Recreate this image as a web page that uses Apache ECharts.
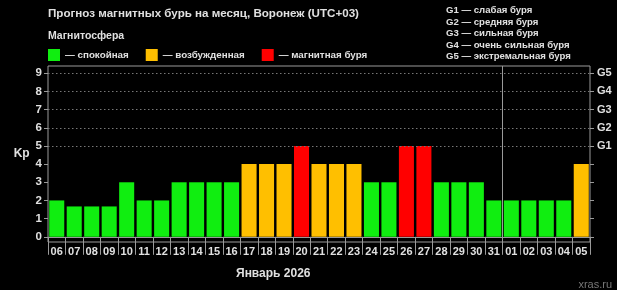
<!DOCTYPE html>
<html><head><meta charset="utf-8">
<script src="https://cdn.jsdelivr.net/npm/echarts@6/dist/echarts.min.js"></script>
<style>html,body{margin:0;padding:0;background:#000}#c{width:617px;height:290px}</style>
</head><body><div id="c"></div>
<script>
const titleText = 'Прогноз магнитных бурь на месяц, Воронеж (UTC+03)';
const subTitle = 'Магнитосфера';
const axisTitle = 'Январь 2026';
const days = ['06','07','08','09','10','11','12','13','14','15','16','17','18','19','20','21','22','23','24','25','26','27','28','29','30','31','01','02','03','04','05'];
const kp = [2,1.67,1.67,1.67,3,2,2,3,3,3,3,4,4,4,5,4,4,4,3,3,5,5,3,3,3,2,2,2,2,2,4];
const levelNames = ['спокойная','возбужденная','магнитная буря'];
const levelColors = ['#10ee10','#ffbf00','#ff0000'];
const yTicks = [0,1,2,3,4,5,6,7,8,9];
const gLevels = [5,6,7,8,9];
const gLabels = ['G1','G2','G3','G4','G5'];
const gLegend = ['G1 — слабая буря','G2 — средняя буря','G3 — сильная буря','G4 — очень сильная буря','G5 — экстремальная буря'];
const monthBreakIndex = 26;

function levelOf(v){ return v >= 5 ? 2 : (v >= 4 ? 1 : 0); }

const chart = echarts.init(document.getElementById('c'), null, {renderer:'canvas'});
const gray = '#9a9a9a';
const txt = '#e0e0e0';
const font = 'Liberation Sans, Arial, sans-serif';

const series = levelNames.map((name, li) => ({
  name: name,
  type: 'bar',
  xAxisIndex: 0, yAxisIndex: 0,
  barGap: '-100%',
  barCategoryGap: '14%',
  itemStyle: {color: levelColors[li]},
  z: 3,
  data: kp.map(v => levelOf(v) === li ? v : '-')
}));
series.push({
  type: 'line', data: [], yAxisIndex: 0, xAxisIndex: 0, z: 1, silent: true,
  markLine: {silent: true, symbol: 'none', label: {show: false},
    lineStyle: {color: '#777', type: [1.5, 2.5], width: 1},
    data: gLevels.map(v => ({yAxis: v}))}
});
series.push({
  type: 'line', data: [], yAxisIndex: 0, xAxisIndex: 2, z: 4, silent: true,
  markLine: {silent: true, symbol: 'none', label: {show: false},
    lineStyle: {color: gray, type: 'solid', width: 1},
    data: [{xAxis: monthBreakIndex}]}
});

const graphics = [
  {type:'text', left: 48, top: 8, style:{text: titleText, fill: txt, font: 'bold 11.6px ' + font}},
  {type:'text', left: 48, top: 31, style:{text: subTitle, fill: txt, font: 'bold 10.5px ' + font}},
  {type:'text', left: 236, top: 268, style:{text: axisTitle, fill: txt, font: 'bold 12px ' + font}},
  {type:'text', right: 5, top: 279, style:{text: 'xras.ru', fill: '#777', font: '11px ' + font}}
];
gLegend.forEach((t, i) => {
  graphics.push({type:'text', left: 446, top: 5.5 + i * 11.5, style:{text: t, fill: txt, font: 'bold 9.6px ' + font}});
});

chart.setOption({
  backgroundColor: '#000',
  animation: false,
  legend: {
    left: 48, top: 49, padding: 0, itemWidth: 12, itemHeight: 12, itemGap: 17, icon: 'rect',
    data: levelNames,
    formatter: n => '— ' + n,
    textStyle: {color: txt, fontWeight: 'bold', fontSize: 9.8, fontFamily: font}
  },
  graphic: graphics,
  grid: {left: 48, right: 27, top: 66, bottom: 48, show: true, borderColor: gray, borderWidth: 1},
  xAxis: [{
    type: 'category', data: days, position: 'bottom',
    axisLine: {show: true, lineStyle: {color: gray}},
    axisTick: {show: true, length: 18, interval: 0, lineStyle: {color: gray}},
    axisLabel: {interval: 0, color: txt, fontWeight: 'bold', fontSize: 11, fontFamily: font, margin: 4},
    splitLine: {show: false}
  },{
    type: 'category', data: days, position: 'bottom', offset: 18,
    axisLine: {show: true, lineStyle: {color: gray}},
    axisTick: {show: false}, axisLabel: {show: false}, splitLine: {show: false}
  },{
    type: 'value', min: 0, max: days.length, show: false
  }],
  yAxis: [{
    type: 'value', min: -0.287, max: 9.4, position: 'left',
    name: 'Kp', nameLocation: 'middle', nameRotate: 0, nameGap: 17,
    nameTextStyle: {color: txt, fontWeight: 'bold', fontSize: 12, fontFamily: font},
    axisLine: {show: false},
    axisTick: {show: true, length: 4, customValues: yTicks, lineStyle: {color: gray}},
    axisLabel: {customValues: yTicks, color: txt, fontWeight: 'bold', fontSize: 11.5, fontFamily: font, margin: 6},
    splitLine: {show: false}
  },{
    type: 'value', min: -0.287, max: 9.4, position: 'right',
    axisLine: {show: false},
    axisTick: {show: true, length: 4, customValues: yTicks, lineStyle: {color: gray}},
    axisLabel: {customValues: gLevels, formatter: v => gLabels[gLevels.indexOf(v)] || '', color: txt, fontWeight: 'bold', fontSize: 11, fontFamily: font, margin: 7},
    splitLine: {show: false}
  }],
  series: series
});
</script></body></html>
